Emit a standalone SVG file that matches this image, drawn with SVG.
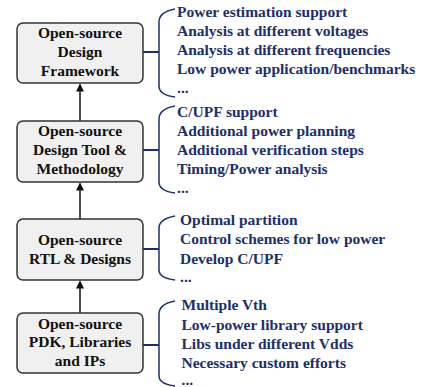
<svg xmlns="http://www.w3.org/2000/svg" width="421" height="387" viewBox="0 0 421 387">
<style>
.box{fill:#f0f0f0;stroke:#333;stroke-width:1.5}
.bt{font-family:"Liberation Serif","Times New Roman",serif;font-weight:bold;font-size:15.5px;fill:#111;text-anchor:middle}
.rt{font-family:"Liberation Serif","Times New Roman",serif;font-weight:bold;font-size:15.5px;fill:#1c2f6b}
.br{fill:none;stroke:#1c2f6b;stroke-width:1.5}
.ln{fill:none;stroke:#1c2f6b;stroke-width:2}
.ar{stroke:#111;stroke-width:1.5;fill:none}
</style>
<defs>
<marker id="ah" markerWidth="8" markerHeight="8" refX="7" refY="4" orient="auto" markerUnits="userSpaceOnUse">
<path d="M0,0 L8,4 L0,8 Z" fill="#111"/>
</marker>
</defs>
<g id="connectors">
<line class="ar" x1="80" y1="121" x2="80" y2="84.5" marker-end="url(#ah)"/>
<line class="ar" x1="80" y1="219" x2="80" y2="183.5" marker-end="url(#ah)"/>
<line class="ar" x1="80" y1="313" x2="80" y2="281.5" marker-end="url(#ah)"/>
</g>
<g id="n1">
<rect class="box" x="17" y="23" width="126" height="60" rx="6"/>
<text class="bt" x="80" y="38">Open-source</text>
<text class="bt" x="80" y="57">Design</text>
<text class="bt" x="80" y="76">Framework</text>
</g>
<g id="n2">
<rect class="box" x="17" y="121" width="126" height="61" rx="6"/>
<text class="bt" x="80" y="136">Open-source</text>
<text class="bt" x="80" y="154.5">Design Tool &amp;</text>
<text class="bt" x="80" y="173.5">Methodology</text>
</g>
<g id="n3">
<rect class="box" x="17" y="219" width="126" height="61" rx="6"/>
<text class="bt" x="80" y="244.5">Open-source</text>
<text class="bt" x="80" y="263.5">RTL &amp; Designs</text>
</g>
<g id="n4">
<rect class="box" x="17" y="313" width="126" height="60" rx="6"/>
<text class="bt" x="80" y="328.5">Open-source</text>
<text class="bt" x="80" y="347">PDK, Libraries</text>
<text class="bt" x="80" y="365.5">and IPs</text>
</g>
<g id="l1">
<line class="ln" x1="143" y1="52" x2="159" y2="52"/>
<path class="br" d="M175,9 Q159,12 159,22 L159,86 Q159,95 175,97"/>
<text class="rt" x="177" y="17">Power estimation support</text>
<text class="rt" x="177" y="36">Analysis at different voltages</text>
<text class="rt" x="177" y="55">Analysis at different frequencies</text>
<text class="rt" x="177" y="74">Low power application/benchmarks</text>
<text class="rt" x="177" y="92.5">...</text>
</g>
<g id="l2">
<line class="ln" x1="143" y1="150" x2="159" y2="150"/>
<path class="br" d="M175,106 Q159,109 159,119 L159,182 Q159,191 175,193"/>
<text class="rt" x="177" y="117">C/UPF support</text>
<text class="rt" x="177" y="136">Additional power planning</text>
<text class="rt" x="177" y="154.5">Additional verification steps</text>
<text class="rt" x="177" y="173.5">Timing/Power analysis</text>
<text class="rt" x="177" y="193">...</text>
</g>
<g id="l3">
<line class="ln" x1="143" y1="249" x2="159" y2="249"/>
<path class="br" d="M175,216 Q159,219 159,228 L159,270 Q159,278 175,280"/>
<text class="rt" x="180" y="225">Optimal partition</text>
<text class="rt" x="180" y="244">Control schemes for low power</text>
<text class="rt" x="180" y="263.5">Develop C/UPF</text>
<text class="rt" x="180" y="281.5">...</text>
</g>
<g id="l4">
<line class="ln" x1="143" y1="345" x2="159" y2="345"/>
<path class="br" d="M175,301 Q159,304 159,314 L159,376 Q159,384 175,386"/>
<text class="rt" x="181.5" y="310">Multiple Vth</text>
<text class="rt" x="181.5" y="329.5">Low-power library support</text>
<text class="rt" x="181.5" y="348.5">Libs under different Vdds</text>
<text class="rt" x="181.5" y="367.5">Necessary custom efforts</text>
<text class="rt" x="181.5" y="384.5">...</text>
</g>
</svg>
